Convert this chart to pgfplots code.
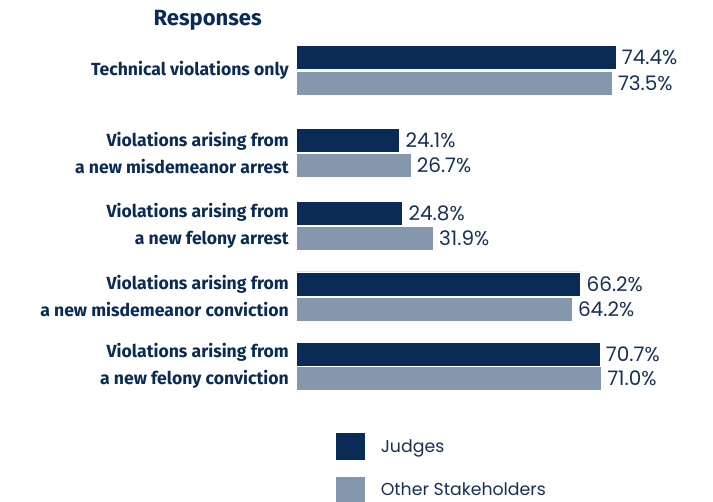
\documentclass[border=0pt]{standalone}
\usepackage{pgfplots}
\pgfplotsset{compat=1.18}
\usepackage{fontspec}
\setmainfont{Poppins}
\newfontfamily\labfont{Fira Sans}
\definecolor{navy}{RGB}{10,43,85}
\definecolor{grayblue}{RGB}{132,151,172}
\definecolor{valtext}{RGB}{22,48,86}
\begin{document}
\begin{tikzpicture}[x=1pt,y=1pt]
\path[use as bounding box] (0,0) rectangle (534.75,-375.75);
\node[font=\labfont\bfseries\fontsize{16.5}{19}\selectfont, text=navy, anchor=east, inner sep=0pt] at (196.5,-15) {Responses};
\begin{axis}[
  at={(222pt,-33.75pt)}, anchor=north west,
  scale only axis, width=312.75pt, height=258.75pt,
  xmin=0, xmax=97, ymin=45, ymax=391, y dir=reverse,
  xbar, bar width=24, bar shift=0pt,
  axis line style={draw=none}, tick style={draw=none},
  xtick=\empty,
  ytick={70.5,153,226,297,367},
  yticklabels={Technical violations only,
    {Violations arising from\\a new misdemeanor arrest},
    {Violations arising from\\a new felony arrest},
    {Violations arising from\\a new misdemeanor conviction},
    {Violations arising from\\a new felony conviction}},
  yticklabel style={align=right, text=navy, font=\labfont\bfseries\fontsize{13.2}{20}\selectfont, inner sep=0pt, xshift=-1pt},
  point meta=x,
  nodes near coords={\pgfmathprintnumber[fixed,fixed zerofill,precision=1,assume math mode=true]{\pgfplotspointmeta}\%},
  nodes near coords align={horizontal},
  every node near coord/.append style={font=\fontsize{15}{17}\selectfont, text=valtext, xshift=1pt},
  legend style={at={(axis description cs:0.0935,-0.122)}, anchor=north west, draw=none, fill=none,
    font=\fontsize{13}{15}\selectfont, text=valtext, row sep=11pt, inner sep=0pt,
    nodes={inner sep=0pt, anchor=west}},
  legend cell align=left,
  legend image code/.code={\fill[#1] (0pt,-10.5pt) rectangle (22.5pt,10.5pt); \path (33.75pt,0pt);},
]
\addplot[fill=navy, draw=white, line width=0.4pt] coordinates {(74.4,57.5) (24.1,140.5) (24.8,213.5) (66.2,284.5) (70.7,355.5)};
\addlegendentry{Judges}
\addplot[fill=grayblue, draw=white, line width=0.4pt] coordinates {(73.5,83) (26.7,166) (31.9,239) (64.2,310) (71.0,379)};
\addlegendentry{Other Stakeholders}
\end{axis}
\end{tikzpicture}
\end{document}
